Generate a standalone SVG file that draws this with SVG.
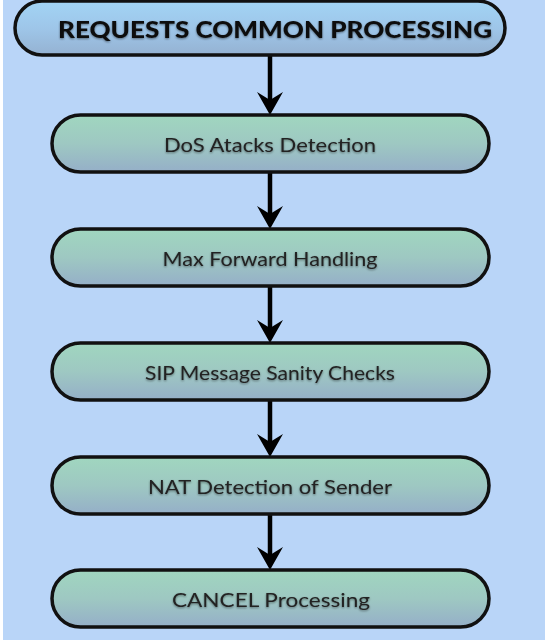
<svg xmlns="http://www.w3.org/2000/svg" width="552" height="640" viewBox="0 0 552 640">
<style>
.node{stroke:#111;stroke-width:3.5}
.green{fill:url(#gg)}
.lbl{font-family:"Gill Sans","Lato","Open Sans",sans-serif;font-size:20px;fill:#222;text-anchor:middle;filter:url(#sh)}
.title{font-family:"Gill Sans","Lato","Open Sans",sans-serif;font-weight:900;font-size:22px;fill:#111;text-anchor:middle;filter:url(#sh)}
.edge{stroke:#000;stroke-width:4.5;fill:none}
.head{fill:#000}
</style>
<defs>
<linearGradient id="gg" x1="0" y1="0" x2="0" y2="1">
<stop offset="0" stop-color="#a0d6bf"/>
<stop offset="0.5" stop-color="#9ec8c2"/>
<stop offset="1" stop-color="#95afc8"/>
</linearGradient>
<linearGradient id="bg" x1="0" y1="0" x2="0" y2="1">
<stop offset="0" stop-color="#a2d4f5"/>
<stop offset="0.5" stop-color="#9ec6e9"/>
<stop offset="1" stop-color="#95b2d2"/>
</linearGradient>
<filter id="sh" x="-10%" y="-30%" width="120%" height="160%">
<feGaussianBlur in="SourceAlpha" stdDeviation="1.2"/>
<feOffset dx="0" dy="1" result="b"/>
<feFlood flood-color="#000" flood-opacity="0.45"/>
<feComposite in2="b" operator="in" result="s"/>
<feMerge><feMergeNode in="s"/><feMergeNode in="SourceGraphic"/></feMerge>
</filter>
</defs>
<rect x="0" y="0" width="552" height="640" fill="#ffffff"/>
<rect x="3" y="0" width="542" height="640" fill="#b9d5f8"/>
<g id="connectors">
<line class="edge" x1="270" y1="55" x2="270" y2="100"/>
<path class="head" d="M270,115 L257,92 L270,100 L283,92 Z"/>
<line class="edge" x1="270" y1="172" x2="270" y2="214"/>
<path class="head" d="M270,229 L257,206 L270,214 L283,206 Z"/>
<line class="edge" x1="270" y1="286" x2="270" y2="328"/>
<path class="head" d="M270,343 L257,320 L270,328 L283,320 Z"/>
<line class="edge" x1="270" y1="400" x2="270" y2="442"/>
<path class="head" d="M270,457 L257,434 L270,442 L283,434 Z"/>
<line class="edge" x1="270" y1="514" x2="270" y2="555"/>
<path class="head" d="M270,570 L257,547 L270,555 L283,547 Z"/>
</g>
<g id="n0">
<rect class="node" x="15" y="1" width="490" height="54" rx="27" fill="url(#bg)"/>
<text class="title" x="275" y="38" textLength="434" lengthAdjust="spacingAndGlyphs">REQUESTS COMMON PROCESSING</text>
</g>
<g id="n1">
<rect class="node green" x="52" y="115" width="437" height="57" rx="28.5"/>
<text class="lbl" x="270" y="152" textLength="212" lengthAdjust="spacingAndGlyphs">DoS Atacks Detection</text>
</g>
<g id="n2">
<rect class="node green" x="52" y="229" width="437" height="57" rx="28.5"/>
<text class="lbl" x="270" y="266" textLength="215" lengthAdjust="spacingAndGlyphs">Max Forward Handling</text>
</g>
<g id="n3">
<rect class="node green" x="52" y="343" width="437" height="57" rx="28.5"/>
<text class="lbl" x="270" y="380" textLength="250" lengthAdjust="spacingAndGlyphs">SIP Message Sanity Checks</text>
</g>
<g id="n4">
<rect class="node green" x="52" y="457" width="437" height="57" rx="28.5"/>
<text class="lbl" x="270" y="494" textLength="244" lengthAdjust="spacingAndGlyphs">NAT Detection of Sender</text>
</g>
<g id="n5">
<rect class="node green" x="52" y="570" width="437" height="57" rx="28.5"/>
<text class="lbl" x="271" y="607" textLength="198" lengthAdjust="spacingAndGlyphs">CANCEL Processing</text>
</g>
</svg>
